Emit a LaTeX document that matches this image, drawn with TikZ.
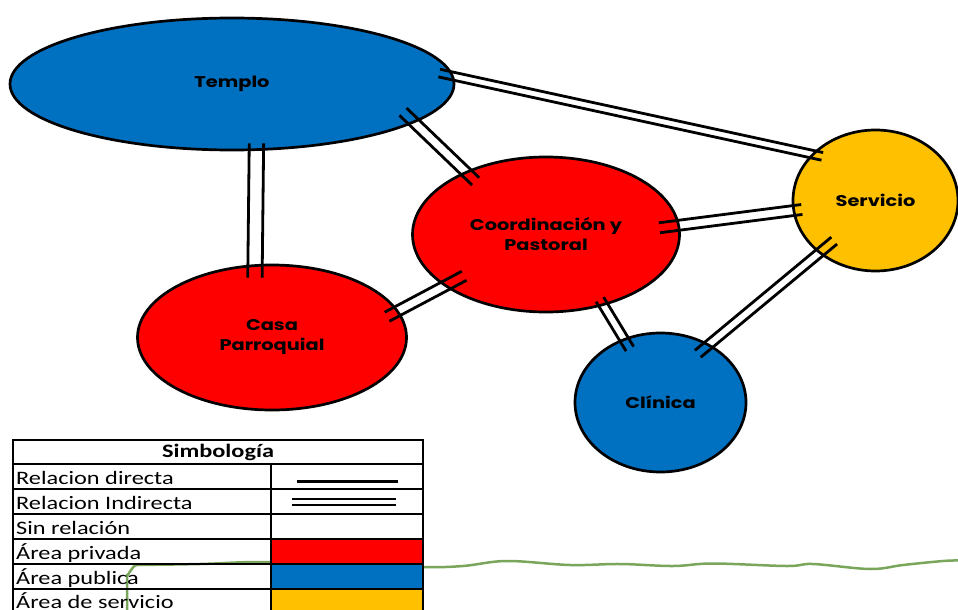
\documentclass[tikz,border=0pt]{standalone}
\usepackage{fontspec}
\newfontfamily\labelfont{Poppins}[FakeStretch=1.25]
\newfontfamily\legendfont{Carlito}[FakeStretch=1.28]
\usetikzlibrary{shapes.geometric,calc}
\definecolor{rojo}{RGB}{255,0,0}
\definecolor{azul}{RGB}{0,112,192}
\definecolor{ambar}{RGB}{255,192,0}
\definecolor{olivo}{RGB}{122,166,92}

\begin{document}
\begin{tikzpicture}[
    x=1pt, y=-1pt,
    area/.style={ellipse, draw, line width=2.7pt, inner sep=0pt, align=center, font=\labelfont\bfseries\fontsize{15.5}{20}\selectfont},
    privada/.style={area, fill=rojo},
    publica/.style={area, fill=azul},
    servarea/.style={area, fill=ambar},
    rel/.style={line width=2.8pt},
    grid/.style={line width=2pt},
    celda/.style={anchor=base west, inner sep=0pt, font=\legendfont\fontsize{19}{20}\selectfont},
    wave/.style={olivo, line width=2.5pt}
]
    \useasboundingbox (0,0) rectangle (958,610);

    % line behind the legend
    \draw[wave] (127,612) -- (127,574) to[out=-90,in=180] (137,565)
        -- plot[smooth, tension=0.6] coordinates {(137,565) (200,564) (260,562) (340,564) (423,567) (463,566) (507,561) (570,565) (620,564) (673,566) (713,563.5) (787,566) (813,564) (870,569) (903,565) (943,561) (960,560.5)};

    % areas
    \node[publica, minimum width=444pt, minimum height=132pt] (templo) at (232,84) {Templo};
    \node[privada, minimum width=267pt, minimum height=155pt] (coord) at (546,234.5) {Coordinación y\\Pastoral};
    \node[servarea, minimum width=165pt, minimum height=141pt] (servicio) at (875.5,200.5) {Servicio};
    \node[privada, minimum width=269pt, minimum height=145pt] (casa) at (272,337.5) {Casa\\Parroquial};
    \node[publica, minimum width=171pt, minimum height=139pt] (clinica) at (660.5,402.5) {Clínica};

    % relations (double lines)
    \foreach \a/\b/\oa/\ob/\g in {templo.2.5/servicio.144/15pt/11pt/3.9pt,
        templo.-12.2/coord.142.7/16pt/14.5pt/5.1pt,
        templo.-70.7/casa.103.3/7.6pt/13.4pt/7.2pt,
        casa.12.2/coord.207.9/13pt/22.5pt/5.1pt,
        coord.4.8/servicio.187/20.7pt/9.4pt/5pt,
        coord.-51.6/clinica.120.3/7.4pt/12.2pt/4.4pt,
        servicio.223/clinica.50.9/20pt/15.3pt/4.5pt}
    {
        \draw[rel, shorten <=-\oa, shorten >=-\ob] ($(\a)!\g!90:(\b)$) -- ($(\b)!\g!-90:(\a)$);
        \draw[rel, shorten <=-\oa, shorten >=-\ob] ($(\a)!\g!-90:(\b)$) -- ($(\b)!\g!90:(\a)$);
    }

    % legend
    \fill[rojo] (271,539) rectangle (423,564);
    \fill[azul] (271,564) rectangle (423,589);
    \fill[ambar] (271,589) rectangle (423,614);
    \draw[grid] (13,440) rectangle (423,614);
    \foreach \y in {464,489,514,539,564,589}
        \draw[grid] (13,\y) -- (423,\y);
    \draw[grid] (271,464) -- (271,614);

    \node[celda, anchor=base, font=\legendfont\bfseries\fontsize{19}{20}\selectfont] (simbologia) at (218,457.5) {Simbología};
    \node[celda] (directa) at (16,484) {Relacion directa};
    \node[celda] (indirecta) at (16,509) {Relacion Indirecta};
    \node[celda] (sinrel) at (16,534) {Sin relación};
    \node[celda] (privada) at (16,559) {Área privada};
    \node[celda] (publica) at (16,584) {Área publica};
    \node[celda] (servicioarea) at (16,608) {Área de servicio};

    \draw[line width=3pt] (297,481) -- (398,481);
    \draw[line width=2pt] (292,498.5) -- (396,498.5);
    \draw[line width=2pt] (292,505) -- (396,505);
\end{tikzpicture}
\end{document}
